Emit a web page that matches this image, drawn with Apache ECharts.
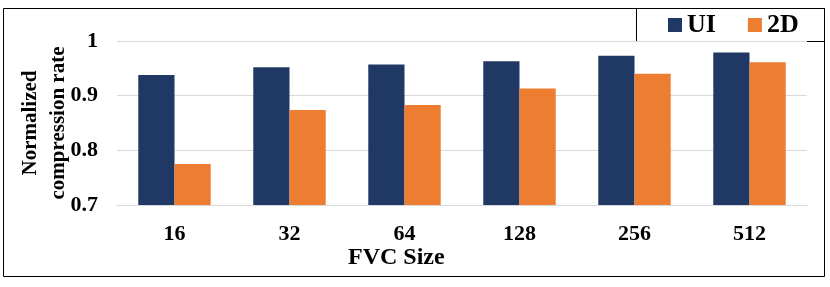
<!DOCTYPE html>
<html><head><meta charset="utf-8">
<script src="https://cdn.jsdelivr.net/npm/echarts@6/dist/echarts.min.js"></script>
<style>html,body{margin:0;padding:0;background:#fff}#c{width:830px;height:287px}</style>
</head><body><div id="c"></div>
<script>
const categories = ['16', '32', '64', '128', '256', '512'];
const uiValues = [0.938, 0.952, 0.957, 0.963, 0.973, 0.979];
const d2Values = [0.775, 0.874, 0.883, 0.913, 0.940, 0.961];
const yTicks = { min: 0.7, max: 1, interval: 0.1 };
const FONT = '"Liberation Serif", "Times New Roman", serif';
const chart = echarts.init(document.getElementById('c'), null, { renderer: 'canvas' });
chart.setOption({
  animation: false,
  backgroundColor: '#fff',
  grid: { left: 117, right: 23, top: 41, bottom: 82 },
  legend: {
    data: ['UI', '2D'], left: 668, top: 12, padding: 0, itemWidth: 14, itemHeight: 14, itemGap: 32,
    textStyle: { fontFamily: FONT, fontWeight: 'bold', fontSize: 26, color: '#000', padding: [0, 0, 0, 0] },
    icon: 'rect'
  },
  xAxis: {
    type: 'category', data: categories,
    axisLine: { lineStyle: { color: '#d9d9d9', width: 1 } },
    axisTick: { show: false },
    axisLabel: { fontFamily: FONT, fontWeight: 'bold', fontSize: 22, color: '#000', margin: 18 }
  },
  yAxis: {
    type: 'value', min: yTicks.min, max: yTicks.max, interval: yTicks.interval,
    axisLine: { show: false }, axisTick: { show: false },
    splitLine: { lineStyle: { color: '#d9d9d9', width: 1 } },
    axisLabel: { fontFamily: FONT, fontWeight: 'bold', fontSize: 22, color: '#000', margin: 19,
      formatter: v => (Math.round(v * 10) / 10).toString() },
    name: 'Normalized\ncompression rate', nameLocation: 'middle', nameGap: 44, nameRotate: 90,
    nameMoveOverlap: false,
    nameTextStyle: { fontFamily: FONT, fontWeight: 'bold', fontSize: 21, color: '#000', lineHeight: 28 }
  },
  series: [
    { name: 'UI', type: 'bar', data: uiValues, barGap: '0%', barCategoryGap: '37%',
      itemStyle: { color: '#203864' } },
    { name: '2D', type: 'bar', data: d2Values, itemStyle: { color: '#ED7D31' } }
  ],
  graphic: [
    { type: 'rect', shape: { x: 3.5, y: 8.5, width: 821, height: 268 }, style: { fill: 'none', stroke: '#000', lineWidth: 1 }, silent: true },
    { type: 'rect', shape: { x: 636.5, y: 8.5, width: 188, height: 33 }, style: { fill: 'none', stroke: '#000', lineWidth: 1 }, silent: true },
    { type: 'text', left: 348, top: 246, style: { text: 'FVC Size', fontFamily: FONT, fontWeight: 'bold', fontSize: 24, fill: '#000' } }
  ]
});
</script></body></html>
